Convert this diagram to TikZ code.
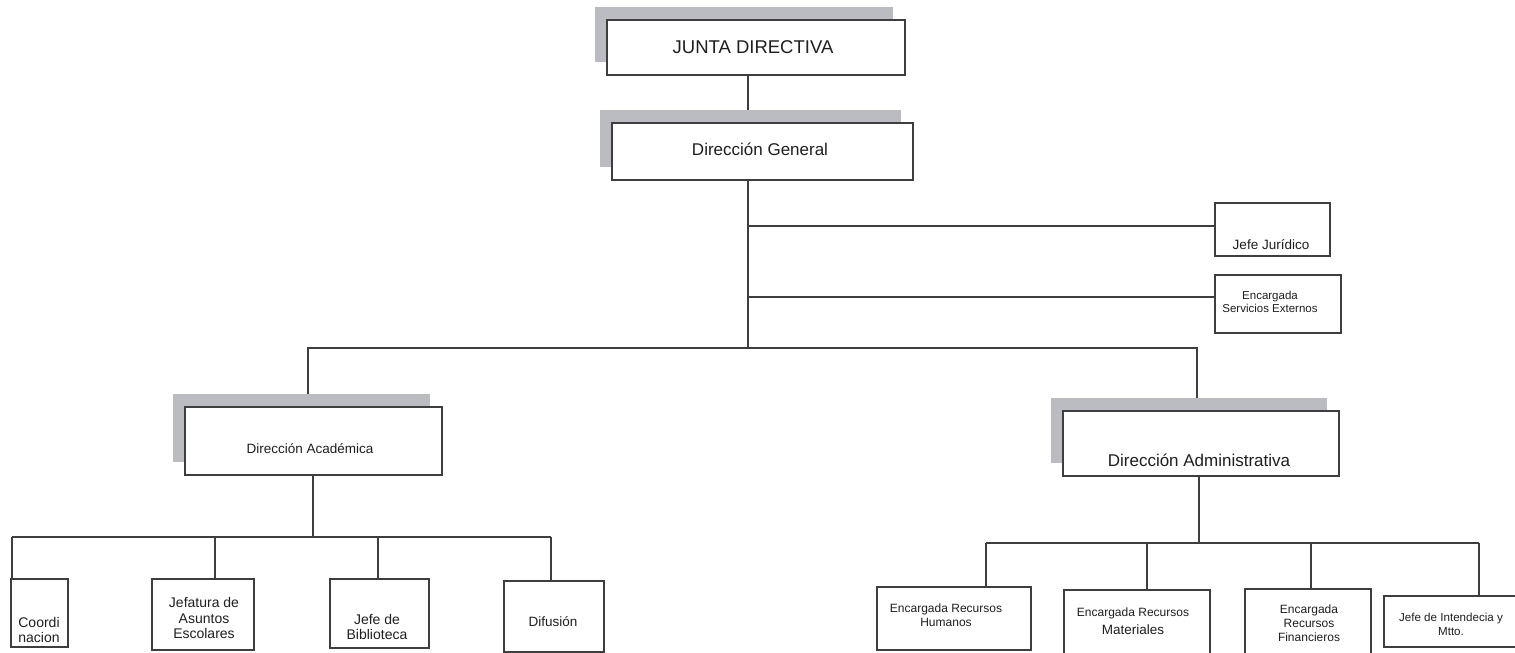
\documentclass[tikz,border=0pt]{standalone}
\usepackage{fontspec}
\setmainfont{Liberation Sans}
\usetikzlibrary{shadows,backgrounds}
\definecolor{shade}{RGB}{186,188,194}
\definecolor{ink}{RGB}{62,62,62}

\begin{document}
\begin{tikzpicture}[x=1pt,y=-1pt,
  box/.style={draw=ink,line width=1.8pt,fill=white,inner sep=0pt},
  chief/.style={box,drop shadow={opacity=1,fill=shade,shadow xshift=-12pt,shadow yshift=13pt}},
  lbl/.style={inner sep=0pt,align=center,text=black!88},
  link/.style={draw=ink,line width=1.9pt}]
\useasboundingbox (0,0) rectangle (1515,653);

% Top levels
\node[chief,minimum width=298pt,minimum height=55pt] (jd) at (756,47.5) {};
\node[lbl,font=\fontsize{18.5}{20}\selectfont] (jd-t) at (753,47) {JUNTA DIRECTIVA};
\node[chief,minimum width=301pt,minimum height=57pt] (dg) at (762.5,151.5) {};
\node[lbl,font=\fontsize{17}{19}\selectfont] (dg-t) at (760,149) {Dirección General};

% Staff boxes
\node[box,minimum width=115pt,minimum height=53pt] (jur) at (1272.5,229.5) {};
\node[lbl,font=\fontsize{13.5}{15}\selectfont] (jur-t) at (1271,245) {Jefe Jurídico};
\node[box,minimum width=126pt,minimum height=58pt] (ext) at (1278,304) {};
\node[lbl,font=\fontsize{11.5}{12.5}\selectfont] (ext-t) at (1270,302) {Encargada\\Servicios Externos};

% Directions
\node[chief,minimum width=257pt,minimum height=68pt] (da) at (313.5,441) {};
\node[lbl,font=\fontsize{13.5}{15}\selectfont] (da-t) at (310,449) {Dirección Académica};
\node[chief,minimum width=276pt,minimum height=65pt] (dad) at (1201,443.5) {};
\node[lbl,font=\fontsize{17}{19}\selectfont] (dad-t) at (1199,460) {Dirección Administrativa};

% Academic units
\node[box,minimum width=57pt,minimum height=68pt] (coo) at (39.5,613) {};
\node[lbl,font=\fontsize{14}{15.5}\selectfont] (coo-t) at (39,630) {Coordi\\nacion};
\node[box,minimum width=102pt,minimum height=71pt] (jae) at (203,614.5) {};
\node[lbl,font=\fontsize{14}{15.5}\selectfont] (jae-t) at (204,618) {Jefatura de\\Asuntos\\Escolares};
\node[box,minimum width=99pt,minimum height=69pt] (bib) at (379.5,613.5) {};
\node[lbl,font=\fontsize{14}{15.5}\selectfont] (bib-t) at (377,627) {Jefe de\\Biblioteca};
\node[box,minimum width=100pt,minimum height=71pt] (dif) at (554,616.5) {};
\node[lbl,font=\fontsize{13.5}{15}\selectfont] (dif-t) at (553,622) {Difusión};

% Administrative units
\node[box,minimum width=154pt,minimum height=63pt] (erh) at (954,618.5) {};
\node[lbl,font=\fontsize{12}{13.5}\selectfont] (erh-t) at (946,615) {Encargada Recursos\\Humanos};
\node[box,minimum width=146pt,minimum height=66pt] (erm) at (1137,623) {};
\node[lbl,font=\fontsize{12}{18}\selectfont] (erm-t) at (1133,621) {Encargada Recursos\\\fontsize{13.5}{18}\selectfont Materiales};
\node[box,minimum width=126pt,minimum height=69pt] (erf) at (1308,623.5) {};
\node[lbl,font=\fontsize{12}{14}\selectfont] (erf-t) at (1309,623) {Encargada\\Recursos\\Financieros};
\node[box,minimum width=141pt,minimum height=51pt] (jin) at (1454.5,621.5) {};
\node[lbl,font=\fontsize{11.6}{14}\selectfont] (jin-t) at (1451,624) {Jefe de Intendecia y\\Mtto.};

% Connectors
\begin{scope}[on background layer]
\coordinate (trunk) at (748,348);
\draw[link] (jd.south -| trunk) -- (dg.north -| trunk);
\draw[link] (dg.south -| trunk) -- (trunk);
\coordinate (jur-in) at ([yshift=3.5pt]jur.west);
\draw[link] (jur-in -| trunk) -- (jur-in);
\coordinate (ext-in) at ([yshift=7pt]ext.west);
\draw[link] (ext-in -| trunk) -- (ext-in);
\coordinate (barL) at (308,348);
\coordinate (barR) at (1197,348);
\draw[link] (barL |- da.north) -- (barL) -- (barR) -- (barR |- dad.north);

\coordinate (acad) at (313,537);
\draw[link] (da.south -| acad) -- (acad);
\draw[link] (12,537) -- (551,537);
\foreach \n/\x in {coo/12,jae/215,bib/378,dif/551}{
  \coordinate (drop) at (\x,537);
  \draw[link] (drop) -- (drop |- \n.north);
}

\coordinate (admin) at (1199,543);
\draw[link] (dad.south -| admin) -- (admin);
\draw[link] (986,543) -- (1479,543);
\foreach \n/\x in {erh/986,erm/1147,erf/1311,jin/1479}{
  \coordinate (drop) at (\x,543);
  \draw[link] (drop) -- (drop |- \n.north);
}
\end{scope}
\end{tikzpicture}
\end{document}
